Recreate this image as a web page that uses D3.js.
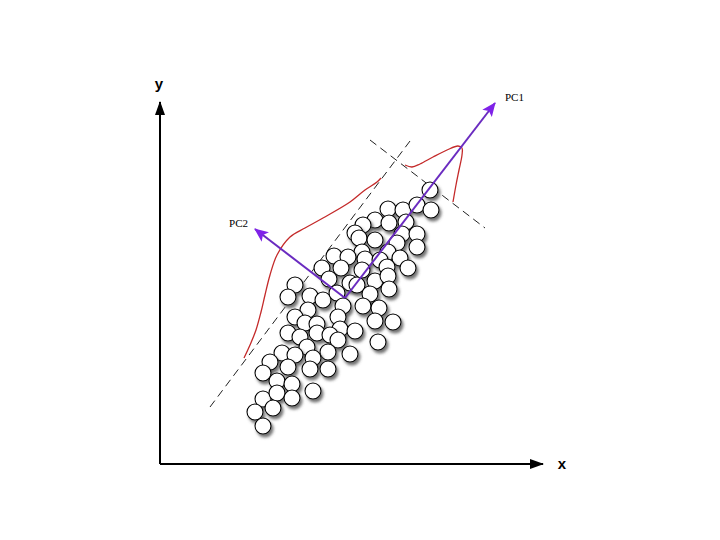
<!DOCTYPE html>
<html>
<head>
<meta charset="utf-8">
<script src="https://cdn.jsdelivr.net/npm/d3@7"></script>
<style>
  body { margin: 0; background: #fff; }
  svg { display: block; }
</style>
</head>
<body>
<svg id="chart"></svg>
<script>
// sample points (x, y) in axis units, origin where the axes meet
var points = [
  [270,274],[228,255],[243,254],[257,259],[271,254],[215,244],[229,241],[246,242],
  [203,239],[195,231],[199,226],[215,224],[242,230],[257,230],[257,217],[237,221],
  [202,212],[228,212],[174,208],[188,207],[205,205],[220,204],[240,206],[248,196],
  [162,196],[181,196],[202,194],[227,197],[169,185],[190,181],[215,183],[228,188],
  [135,179],[128,167],[150,168],[163,164],[177,171],[197,179],[210,170],[229,175],
  [183,158],[203,158],[219,156],[148,154],[135,147],[145,141],[157,140],[178,147],
  [180,135],[215,143],[233,142],[195,133],[128,131],[140,127],[157,131],[170,129],
  [178,124],[218,122],[147,117],[168,112],[190,110],[122,111],[135,109],[110,102],
  [153,106],[103,91],[128,97],[150,95],[168,95],[117,83],[132,80],[153,73],
  [103,65],[117,71],[132,66],[95,52],[113,56],[103,38]
];

// principal component arrows: common origin and tips
var pcOrigin = [185, 166];
var pcTips = [
  {name: "PC1", tip: [335, 361]},
  {name: "PC2", tip: [95, 235]}
];

// dashed guide lines
var guides = [
  [[50, 57], [250, 323]],
  [[210, 324], [325, 236]]
];

// projected distributions (red curves)
var distPC2 = [[84,106],[90,119],[96,134],[101,152],[105,169],[110,189],[117,209],
  [130,227],[145,236],[163,246],[190,262],[205,274],[217,282],[221,286]];
var distPC1 = [[245,299],[252,297],[260,300],[273,307],[287,314],[298,318],[302,316],
  [302,309],[299,294],[296,279],[293,262]];

var axisEnd = {x: 383, y: 362};

var width = 720, height = 540;

var svg = d3.select("#chart")
    .attr("width", width)
    .attr("height", height);

var x = d3.scaleLinear().domain([0, 380]).range([160, 540]);
var y = d3.scaleLinear().domain([0, 360]).range([464, 104]);

var defs = svg.append("defs");

// arrow heads
defs.append("marker")
    .attr("id", "blackArrow")
    .attr("viewBox", "0 0 14 10")
    .attr("refX", 13).attr("refY", 5)
    .attr("markerWidth", 14).attr("markerHeight", 10)
    .attr("markerUnits", "userSpaceOnUse")
    .attr("orient", "auto")
    .append("path")
    .attr("d", "M0,0 L14,5 L0,10 Z")
    .attr("fill", "#000");

defs.append("marker")
    .attr("id", "purpleArrow")
    .attr("viewBox", "0 0 14 12")
    .attr("refX", 13).attr("refY", 6)
    .attr("markerWidth", 14).attr("markerHeight", 12)
    .attr("markerUnits", "userSpaceOnUse")
    .attr("orient", "auto")
    .append("path")
    .attr("d", "M0,0 L14,6 L0,12 L3,6 Z")
    .attr("fill", "#7f22e8");

// soft shadow under the points
var shadow = defs.append("filter")
    .attr("id", "shadow")
    .attr("x", "-50%").attr("y", "-50%")
    .attr("width", "200%").attr("height", "200%");
shadow.append("feDropShadow")
    .attr("dx", 2).attr("dy", 3)
    .attr("stdDeviation", 1.6)
    .attr("flood-color", "#444")
    .attr("flood-opacity", 0.75);

// axes
svg.append("line")
    .attr("x1", x(0)).attr("y1", y(0))
    .attr("x2", x(axisEnd.x)).attr("y2", y(0))
    .attr("stroke", "#000").attr("stroke-width", 2)
    .attr("marker-end", "url(#blackArrow)");

svg.append("line")
    .attr("x1", x(0)).attr("y1", y(0))
    .attr("x2", x(0)).attr("y2", y(axisEnd.y))
    .attr("stroke", "#000").attr("stroke-width", 2)
    .attr("marker-end", "url(#blackArrow)");

svg.append("text")
    .attr("x", x(axisEnd.x) + 19).attr("y", y(0) + 5)
    .attr("text-anchor", "middle")
    .attr("font-family", "Liberation Sans, Arial, sans-serif")
    .attr("font-weight", "bold")
    .attr("font-size", "15px")
    .text("x");

svg.append("text")
    .attr("x", x(0) - 1).attr("y", y(axisEnd.y) - 13)
    .attr("text-anchor", "middle")
    .attr("font-family", "Liberation Sans, Arial, sans-serif")
    .attr("font-weight", "bold")
    .attr("font-size", "15px")
    .text("y");

// dashed guide lines
svg.selectAll(".guide")
    .data(guides)
    .enter().append("line")
    .attr("class", "guide")
    .attr("x1", function(d) { return x(d[0][0]); })
    .attr("y1", function(d) { return y(d[0][1]); })
    .attr("x2", function(d) { return x(d[1][0]); })
    .attr("y2", function(d) { return y(d[1][1]); })
    .attr("stroke", "#222")
    .attr("stroke-width", 1)
    .attr("stroke-dasharray", "8,5");

// red distribution curves
var curve = d3.line()
    .x(function(d) { return x(d[0]); })
    .y(function(d) { return y(d[1]); })
    .curve(d3.curveCatmullRom);

svg.selectAll(".dist")
    .data([distPC2, distPC1])
    .enter().append("path")
    .attr("class", "dist")
    .attr("d", curve)
    .attr("fill", "none")
    .attr("stroke", "#c42a2a")
    .attr("stroke-width", 1.3);

// points
svg.append("g")
    .selectAll("circle")
    .data(points)
    .enter().append("circle")
    .attr("cx", function(d) { return x(d[0]); })
    .attr("cy", function(d) { return y(d[1]); })
    .attr("r", 8)
    .attr("fill", "#fff")
    .attr("stroke", "#000")
    .attr("stroke-width", 1.1)
    .attr("filter", "url(#shadow)");

// principal component arrows
svg.selectAll(".pc")
    .data(pcTips)
    .enter().append("line")
    .attr("class", "pc")
    .attr("x1", x(pcOrigin[0])).attr("y1", y(pcOrigin[1]))
    .attr("x2", function(d) { return x(d.tip[0]); })
    .attr("y2", function(d) { return y(d.tip[1]); })
    .attr("stroke", "#6a2bc0")
    .attr("stroke-width", 2)
    .attr("marker-end", "url(#purpleArrow)");

svg.append("text")
    .attr("x", x(pcTips[0].tip[0]) + 10).attr("y", y(pcTips[0].tip[1]) - 2)
    .attr("font-family", "Liberation Serif, Times New Roman, serif")
    .attr("font-size", "11px")
    .text(pcTips[0].name);

svg.append("text")
    .attr("x", x(pcTips[1].tip[0]) - 7).attr("y", y(pcTips[1].tip[1]) - 2)
    .attr("text-anchor", "end")
    .attr("font-family", "Liberation Serif, Times New Roman, serif")
    .attr("font-size", "11px")
    .text(pcTips[1].name);
</script>
</body>
</html>
